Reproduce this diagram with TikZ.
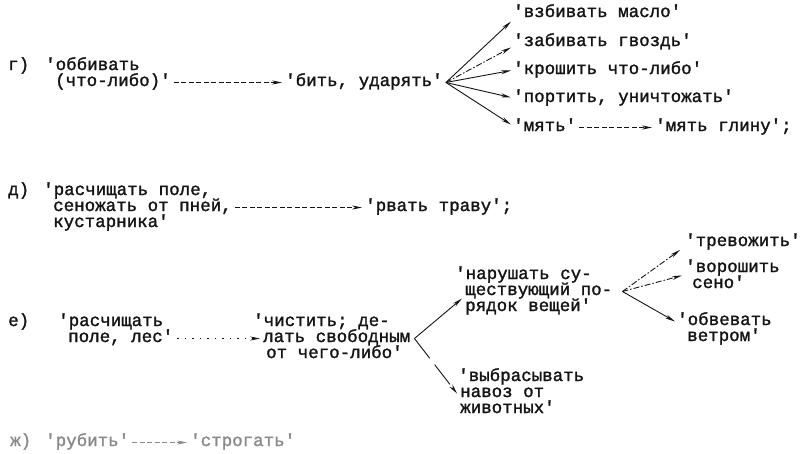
\documentclass[tikz,border=0pt]{standalone}
\usepackage{fontspec}
\newfontfamily\tw{Liberation Mono}[FakeBold=1.6]
\usetikzlibrary{arrows.meta}
\definecolor{ink}{HTML}{141414}
\definecolor{faint}{HTML}{8A8A8A}
\begin{document}
\begin{tikzpicture}[x=1pt,y=-1pt,
  t/.style={font={\tw\fontsize{17.5pt}{16pt}\selectfont}, inner sep=0pt, anchor=base west,
            text height=10pt, text depth=3pt, text=ink},
  harrow/.style={draw=ink, line width=0.6pt, dash pattern=on 5pt off 2.5pt,
            -{Stealth[length=10pt,width=4pt]}},
  fan/.style={draw=ink, line width=0.9pt, -{Stealth[length=10pt,width=4pt]}},
  dfan/.style={fan, dash pattern=on 6pt off 2pt on 1.5pt off 2pt},
  pale/.style={text=faint},
  palearrow/.style={draw=faint}]
\useasboundingbox (0,0) rectangle (811,453);
% ---- г)
\node[t] (gL) at (8,70) {г)};
\node[t] (gA1) at (45,70) {'оббивать};
\node[t] (gA2) at (55,86) {(что-либо)'};
\node[t] (gB) at (285,86) {'бить, ударять'};
\node[t] (gC1) at (513,17) {'взбивать масло'};
\node[t] (gC2) at (513,46) {'забивать гвоздь'};
\node[t] (gC3) at (513,74) {'крошить что-либо'};
\node[t] (gC4) at (513,102) {'портить, уничтожать'};
\node[t] (gC5) at (513,131) {'мять'};
\node[t] (gD) at (655,131) {'мять глину';};
\draw[harrow] ([xshift=3pt]gA2.east) -- ([xshift=-3pt]gB.west);
\coordinate (gP) at ([xshift=3pt]gB.east);
\draw[fan] (gP) -- ([xshift=-2pt,yshift=-8pt]gC1.west);
\draw[dfan] (gP) -- ([xshift=-2pt,yshift=-5pt]gC2.west);
\draw[fan] (gP) -- ([xshift=-2pt]gC3.west);
\draw[fan] (gP) -- ([xshift=-2pt,yshift=1pt]gC4.west);
\draw[fan] (gP) -- ([xshift=-2pt,yshift=3pt]gC5.west);
\draw[harrow] ([xshift=3pt]gC5.east) -- ([xshift=-3pt]gD.west);
% ---- д)
\node[t] (dL) at (8,195) {д)};
\node[t] (dA1) at (43,195) {'расчищать поле,};
\node[t] (dA2) at (53,211) {сеножать от пней,};
\node[t] (dA3) at (53,227) {кустарника'};
\node[t] (dB) at (365,211) {'рвать траву';};
\draw[harrow] ([xshift=3pt]dA2.east) -- ([xshift=-3pt]dB.west);
% ---- е)
\node[t] (eL) at (8,326) {е)};
\node[t] (eA1) at (58,326) {'расчищать};
\node[t] (eA2) at (68,342) {поле, лес'};
\node[t] (eB1) at (253,326) {'чистить; де-};
\node[t] (eB2) at (263,342) {лать свободным};
\node[t] (eB3) at (266,358) {от чего-либо'};
\draw[harrow, dash pattern=on 1.5pt off 6pt] ([xshift=4pt]eA2.east) -- ([xshift=-3pt]eB2.west);
\coordinate (eP) at ([xshift=4pt]eB2.east);
\node[t] (eC1) at (455,279) {'нарушать су-};
\node[t] (eC2) at (465,295) {ществующий по-};
\node[t] (eC3) at (465,311) {рядок вещей'};
\node[t] (eE1) at (458,381) {'выбрасывать};
\node[t] (eE2) at (460,397) {навоз от};
\node[t] (eE3) at (460,413) {животных'};
\draw[fan] (eP) -- ([xshift=-3pt,yshift=-7pt]eC2.west);
\draw[fan, dash pattern=on 25pt off 8pt] (eP) -- ([xshift=-3pt]eE2.west);
\coordinate (eQ) at ([xshift=10pt]eC2.east);
\node[t] (eD1) at (685,246) {'тревожить'};
\node[t] (eD2a) at (685,272) {'ворошить};
\node[t] (eD2b) at (692,288) {сено'};
\node[t] (eD3a) at (677,325) {'обвевать};
\node[t] (eD3b) at (687,341) {ветром'};
\draw[dfan] (eQ) -- ([xshift=-5pt,yshift=-7.5pt]eD1.west);
\draw[dfan] (eQ) -- ([xshift=-3pt,yshift=-7pt]eD2a.west);
\draw[fan] (eQ) -- ([xshift=-2pt]eD3a.west);
% ---- ж)
\node[t,pale] (fL) at (10,446) {ж)};
\node[t,pale] (fA) at (45,446) {'рубить'};
\node[t,pale] (fB) at (190,446) {'строгать'};
\draw[harrow,palearrow] ([xshift=3pt]fA.east) -- ([xshift=-3pt]fB.west);
\end{tikzpicture}
\end{document}
